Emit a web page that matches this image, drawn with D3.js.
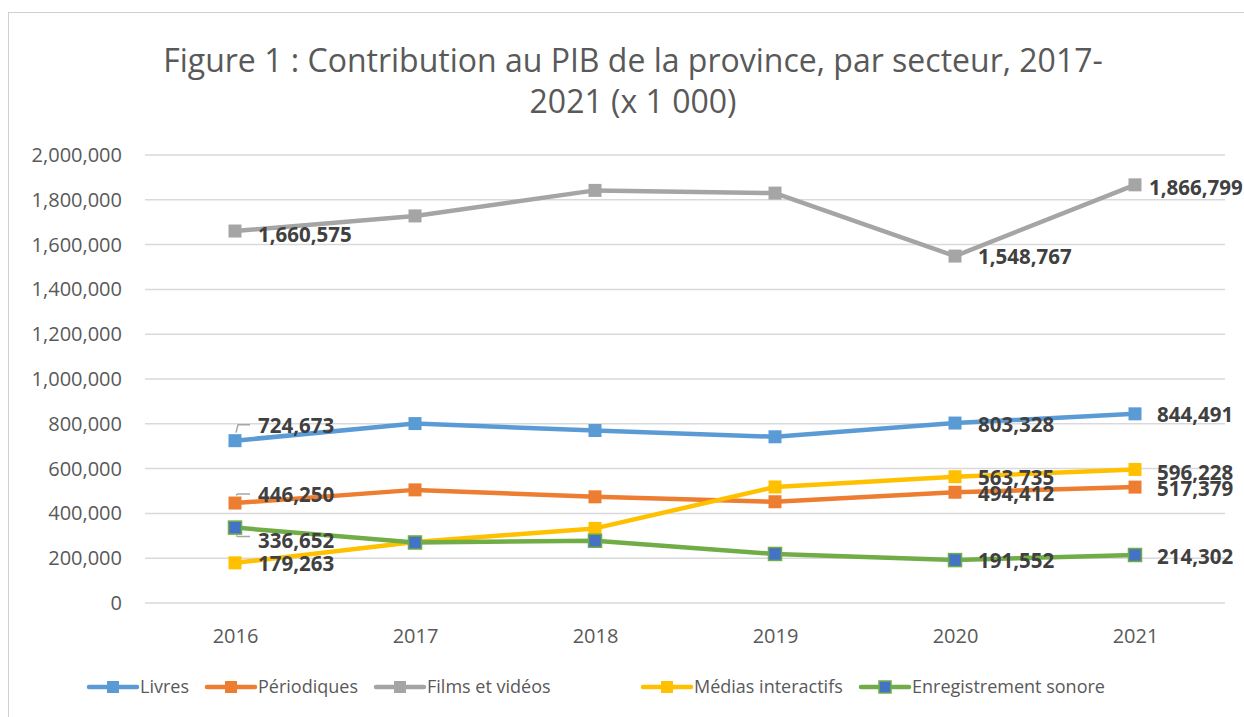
<!DOCTYPE html>
<html>
<head>
<meta charset="utf-8">
<script src="https://cdn.jsdelivr.net/npm/d3@7"></script>
<style>
  body { margin: 0; background: #fff; }
  svg text { font-family: "Open Sans", "Noto Sans", sans-serif; }
</style>
</head>
<body>
<div id="wrapper"></div>
<script>
// data
const years = ["2016", "2017", "2018", "2019", "2020", "2021"];
const livres = [724673, 801000, 770000, 742000, 803328, 844491];
const periodiques = [446250, 505000, 474000, 452000, 494412, 517379];
const films = [1660575, 1728000, 1842000, 1830000, 1548767, 1866799];
const medias = [179263, 272000, 333000, 518000, 563735, 596228];
const enregistrement = [336652, 270000, 278000, 219000, 191552, 214302];
const yTicks = [0, 200000, 400000, 600000, 800000, 1000000, 1200000, 1400000, 1600000, 1800000, 2000000];

// which points carry a label, and where it sits relative to the point
const labelPlacement = {
  livres: { 0: [23, -15, true], 4: [23, 2], 5: [22, 1] },
  periodiques: { 0: [23, -8, true], 4: [23, 2], 5: [22, 2] },
  films: { 0: [23, 4], 4: [23, 1], 5: [14, 3] },
  medias: { 0: [23, 1], 4: [23, 1], 5: [22, 3] },
  enregistrement: { 0: [23, 13, true], 4: [23, 1], 5: [22, 2] }
};

const series = [
  { key: "livres", name: "Livres", values: livres, color: "#5B9BD5", marker: "#5B9BD5" },
  { key: "periodiques", name: "Périodiques", values: periodiques, color: "#ED7D31", marker: "#ED7D31" },
  { key: "films", name: "Films et vidéos", values: films, color: "#A5A5A5", marker: "#A5A5A5" },
  { key: "medias", name: "Médias interactifs", values: medias, color: "#FFC000", marker: "#FFC000" },
  { key: "enregistrement", name: "Enregistrement sonore", values: enregistrement, color: "#70AD47", marker: "#4472C4" }
];

const width = 1244, height = 717;
const svg = d3.select("#wrapper").append("svg")
  .attr("width", width)
  .attr("height", height);

// chart frame (only left/top visible in the crop)
svg.append("rect")
  .attr("x", 8.5).attr("y", 12.5)
  .attr("width", width + 20).attr("height", height + 20)
  .attr("fill", "#fff")
  .attr("stroke", "#d0d0d0");

svg.append("text")
  .attr("x", 633).attr("y", 72)
  .attr("text-anchor", "middle")
  .style("font-size", "32px")
  .style("fill", "#595959")
  .text("Figure 1 : Contribution au PIB de la province, par secteur, 2017-");
svg.append("text")
  .attr("x", 633).attr("y", 113)
  .attr("text-anchor", "middle")
  .style("font-size", "32px")
  .style("fill", "#595959")
  .text("2021 (x 1 000)");

const x = d3.scalePoint().domain(years).range([145, 1225]).padding(0.5);
const y = d3.scaleLinear().domain([0, 2000000]).range([603, 155]);
const fmt = d3.format(",");

// grid
svg.append("g").selectAll("line")
  .data(yTicks)
  .join("line")
  .attr("x1", 145).attr("x2", 1225)
  .attr("y1", d => y(d)).attr("y2", d => y(d))
  .attr("stroke", "#d9d9d9")
  .attr("stroke-width", 1.5);

const yAxis = svg.append("g")
  .attr("transform", "translate(122,0)")
  .call(d3.axisLeft(y).tickValues(yTicks).tickFormat(fmt).tickSize(0).tickPadding(0));
yAxis.select(".domain").remove();
yAxis.selectAll("text")
  .style("font-size", "20px")
  .style("fill", "#595959")
  .style("font-family", "\"Open Sans\", sans-serif");

const xAxis = svg.append("g")
  .attr("transform", "translate(0,636)")
  .call(d3.axisBottom(x).tickSize(0).tickPadding(0));
xAxis.select(".domain").remove();
xAxis.selectAll("text")
  .attr("dy", "0.35em")
  .style("font-size", "20px")
  .style("fill", "#595959")
  .style("font-family", "\"Open Sans\", sans-serif");

const line = d3.line()
  .x((d, i) => x(years[i]))
  .y(d => y(d));

series.forEach(s => {
  const g = svg.append("g");
  g.append("path")
    .datum(s.values)
    .attr("d", line)
    .attr("fill", "none")
    .attr("stroke", s.color)
    .attr("stroke-width", 4.5)
    .attr("stroke-linejoin", "round")
    .attr("stroke-linecap", "round");
  g.selectAll("rect")
    .data(s.values)
    .join("rect")
    .attr("x", (d, i) => x(years[i]) - 6.5)
    .attr("y", d => y(d) - 6.5)
    .attr("width", 13).attr("height", 13)
    .attr("fill", s.marker)
    .attr("stroke", s.color)
    .attr("stroke-width", s.marker === s.color ? 0 : 1.5);
});

// data labels
series.forEach(s => {
  const place = labelPlacement[s.key];
  Object.keys(place).forEach(k => {
    const i = +k;
    const [dx, dy, leader] = place[k];
    const px = x(years[i]), py = y(s.values[i]);
    if (leader) {
      const ly = dy < 0 ? py + dy - 1 : py + dy - 4;
      const startY = dy < 0 ? py - 8 : py + 8;
      svg.append("path")
        .attr("d", `M${px + 1},${startY} L${px + 3},${ly} L${px + 15},${ly}`)
        .attr("fill", "none")
        .attr("stroke", "#a6a6a6")
        .attr("stroke-width", 1.5);
    }
    svg.append("text")
      .attr("x", px + dx)
      .attr("y", py + dy)
      .attr("dy", "0.35em")
      .style("font-size", "20.5px")
      .style("font-weight", "bold")
      .style("fill", "#404040")
      .text(fmt(s.values[i]));
  });
});

// legend
const legendX = [89, 207, 376, 643, 861];
const legend = svg.append("g").attr("transform", "translate(0,687)");
series.forEach((s, i) => {
  const lg = legend.append("g").attr("transform", `translate(${legendX[i]},0)`);
  lg.append("line")
    .attr("x1", 0).attr("x2", 48)
    .attr("stroke", s.color)
    .attr("stroke-width", 4.5)
    .attr("stroke-linecap", "round");
  lg.append("rect")
    .attr("x", 18).attr("y", -6)
    .attr("width", 12).attr("height", 12)
    .attr("fill", s.marker)
    .attr("stroke", s.color)
    .attr("stroke-width", s.marker === s.color ? 0 : 1.5);
  lg.append("text")
    .attr("x", 51).attr("dy", "0.35em")
    .style("font-size", "18px")
    .style("fill", "#595959")
    .text(s.name);
});
</script>
</body>
</html>
